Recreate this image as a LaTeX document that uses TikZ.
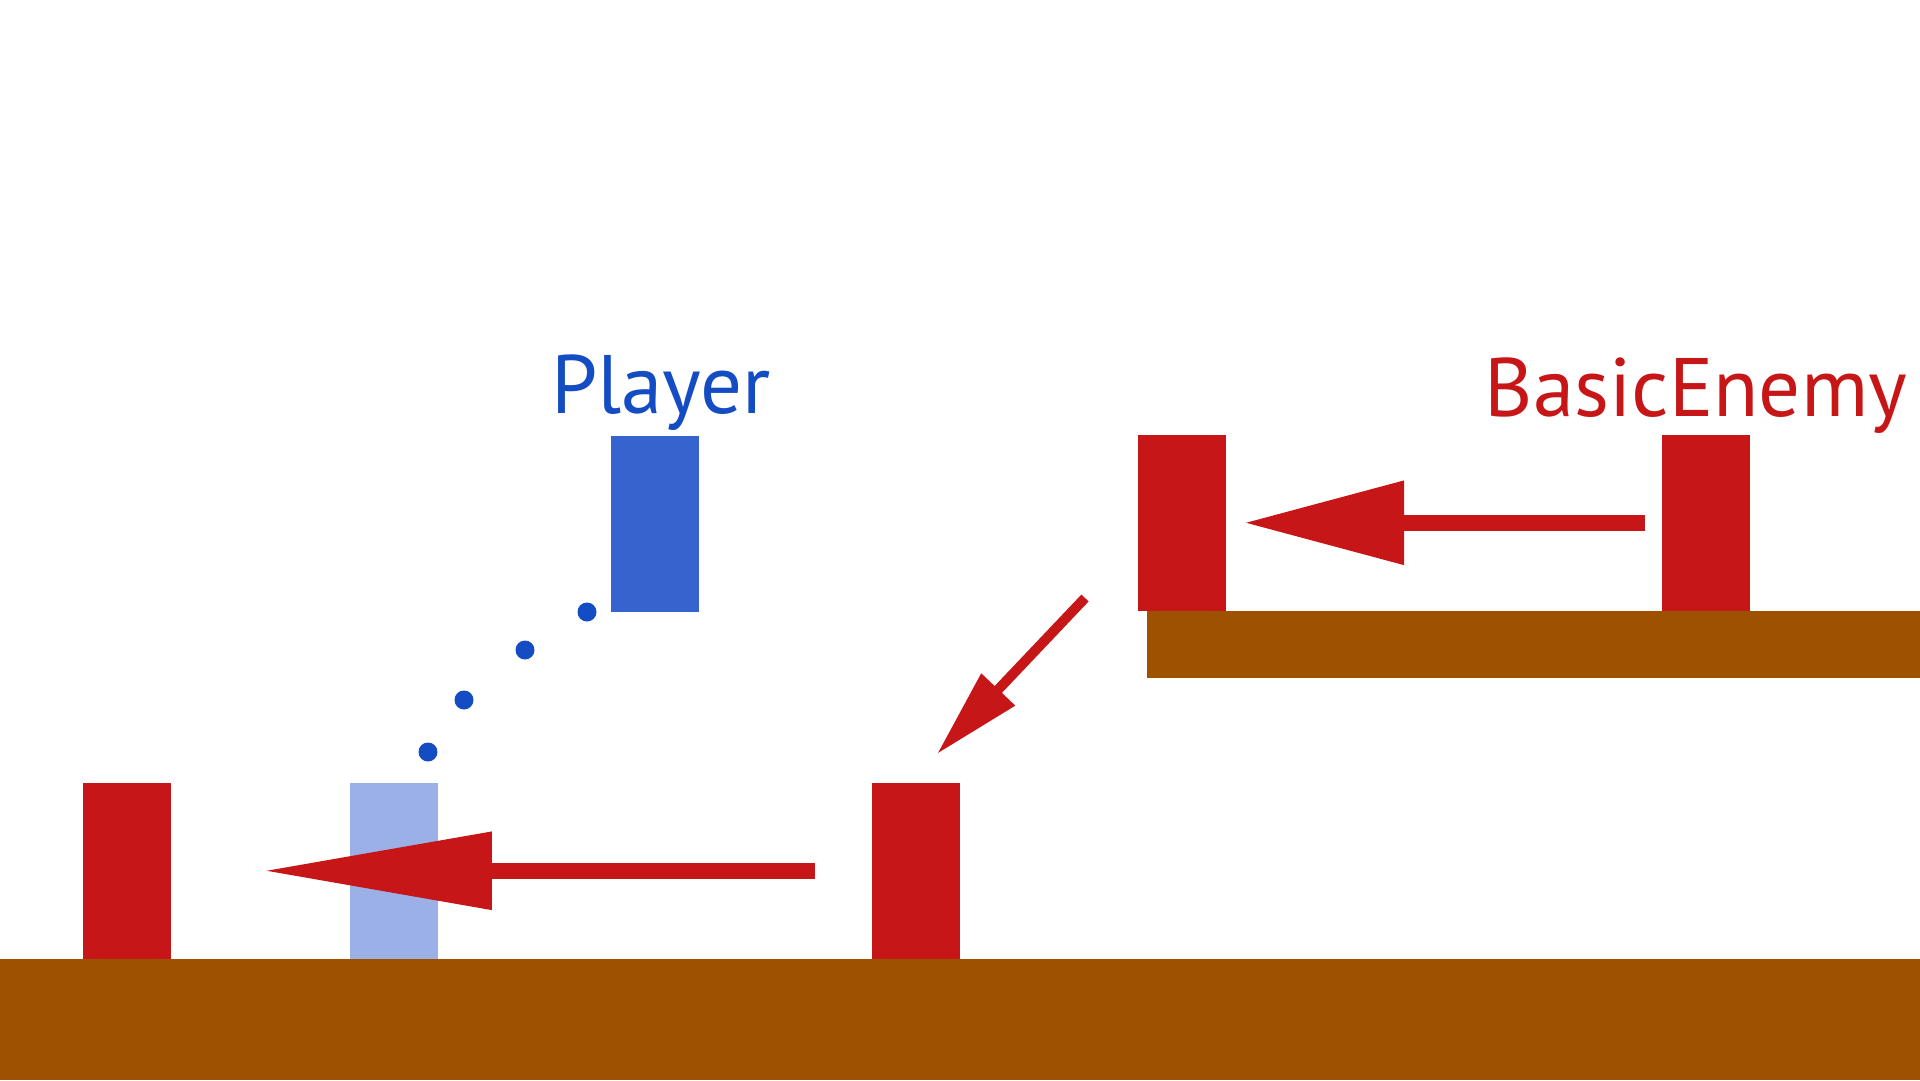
\documentclass[tikz,border=0pt]{standalone}
\usepackage{fontspec}
\setmainfont{PT Sans}
\usepackage{xcolor}
\usetikzlibrary{arrows.meta,positioning}
\definecolor{enemyc}{RGB}{199,22,24}
\definecolor{playerc}{RGB}{54,100,207}
\definecolor{ghostc}{RGB}{155,176,230}
\definecolor{labelc}{RGB}{20,76,196}
\definecolor{groundc}{RGB}{158,82,0}

\begin{document}
\begin{tikzpicture}[
  x=0.1mm, y=-0.1mm,
  block/.style={inner sep=0pt, outer sep=0pt, minimum width=8.8mm, minimum height=17.65mm, anchor=south west},
  enemy/.style={block, fill=enemyc},
  player/.style={block, fill=playerc},
  ghost/.style={block, fill=ghostc},
  ground/.style={fill=groundc, inner sep=0pt, outer sep=0pt, anchor=north west},
  lbl/.style={font=\fontsize{23.6}{28}\selectfont, anchor=base, inner sep=0pt},
  jump/.style={circle, fill=labelc, inner sep=0pt, minimum size=1.9mm},
  move/.style={enemyc, line cap=butt},
]
\useasboundingbox (0,0) rectangle (1920,1080);
% ground and ledge
\node[ground, minimum width=192mm, minimum height=12.1mm] (floor) at (0,959) {};
\node[ground, minimum width=77.3mm, minimum height=6.7mm] (ledge) at (1147,611) {};
% enemies
\node[enemy] (ul) at (1138,611) {};
\node[enemy] (ur) at (1662,611) {};
\node[enemy] (lm) at (872,959) {};
\node[enemy] (ll) at (83,959) {};
% player, ghost and jump trail
\node[ghost] (pg) at (350,959) {};
\node[player] (pl) at (611,612) {};
\foreach \i/\x/\y in {1/428/752,2/464/700,3/525/650,4/587/612}
  \node[jump] (d\i) at (\x,\y) {};
% labels
\node[lbl, text=labelc] (tpl) at (661,413) {Player};
\node[lbl, text=enemyc] (ten) at (1696,416) {BasicEnemy};
% movement arrows
\draw[move, line width=1.6mm, -{Triangle[length=16mm,width=8mm]}, shorten <=1.7mm, shorten >=1.8mm] (ur.west) -- (ul.east);
\coordinate (dtail) at (1085,598);
\coordinate (dtip) at (937,754);
\draw[move, line width=1mm, -{Triangle[length=8.9mm,width=4.4mm]}] (dtail) -- (dtip);
\draw[move, line width=1.6mm, -{Triangle[length=22.9mm,width=7.4mm]}, shorten <=5.7mm, shorten >=9.2mm] (lm.west) -- (ll.east);
\end{tikzpicture}
\end{document}
